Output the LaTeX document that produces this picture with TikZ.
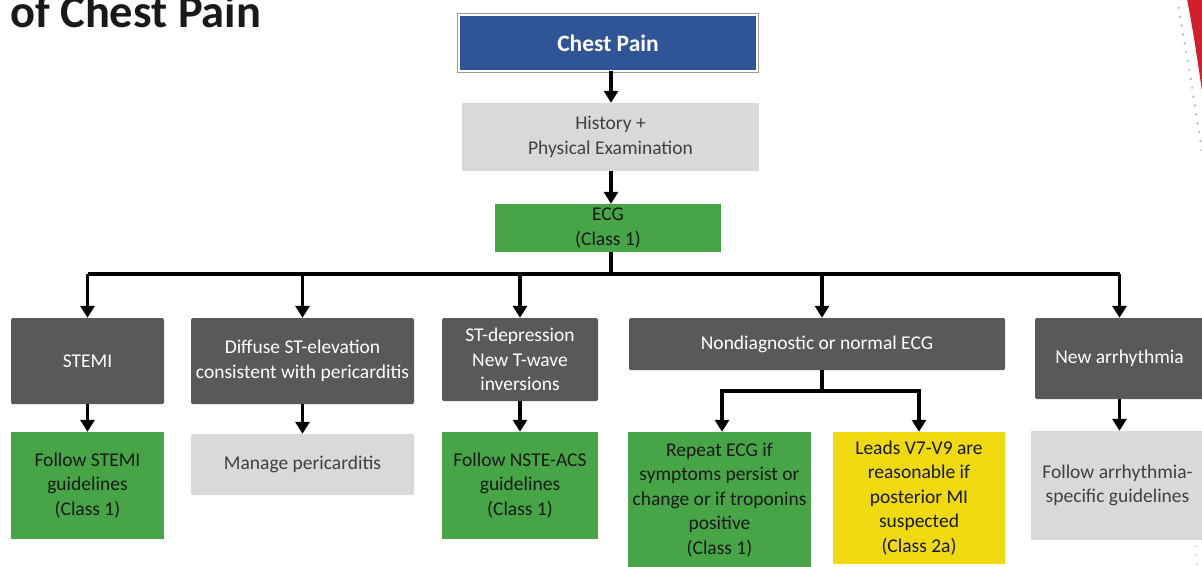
\documentclass[tikz,border=0pt]{standalone}
\usepackage{fontspec}
\setmainfont{Carlito}
\usetikzlibrary{arrows.meta,calc}

\definecolor{hdrblue}{HTML}{2F5597}
\definecolor{darkbox}{HTML}{595959}
\definecolor{lightbox}{HTML}{D9D9D9}
\definecolor{greenbox}{HTML}{47A547}
\definecolor{yellowbox}{HTML}{EFD910}
\definecolor{accentred}{HTML}{D0202E}

\tikzset{
  box/.style={inner sep=2pt, align=center, font=\fontsize{19.5}{24.5}\selectfont, rounded corners=1.5pt},
  darkstep/.style={box, fill=darkbox, text=white},
  lightstep/.style={box, fill=lightbox, text=black!75},
  greenstep/.style={box, fill=greenbox, text=black!90, rounded corners=0pt},
  yellowstep/.style={box, fill=yellowbox, text=black!90, rounded corners=0pt},
  flow/.style={line width=3.2pt, -{Triangle[width=14pt,length=12pt]}},
  flowline/.style={line width=3.2pt}
}

\begin{document}
\begin{tikzpicture}[x=1pt,y=-1pt]
\useasboundingbox (0,0) rectangle (1202,566);

% page title (runs off the top edge)
\node[anchor=base west, inner sep=0pt, font=\fontsize{46.5}{50}\bfseries\selectfont, text=black!90] (title) at (10,27) {of Chest Pain};

% accent shapes on the right edge
\fill[accentred] (1187,-1) .. controls (1194,35) and (1199,70) .. (1204,105) -- (1204,-1) -- cycle;
\draw[gray!55, line width=2.6pt, line cap=round, dash pattern=on 0pt off 9pt] (1177,-1) .. controls (1186,50) and (1196,110) .. (1204,165);
\draw[gray!30, line width=2.2pt, line cap=round, dash pattern=on 0pt off 9pt] (1196,546) -- (1197,566);

% top of the chart
\node[box, fill=hdrblue, text=white, draw=white, line width=1.5pt, rounded corners=0pt,
      minimum width=297pt, minimum height=55pt, font=\fontsize{23.5}{26}\bfseries\selectfont] (chest) at (608,43) {Chest Pain};
\draw[gray!80, line width=1pt] ($(chest.north west)+(-1,-1)$) rectangle ($(chest.south east)+(1,1)$);

\node[lightstep, rounded corners=0pt, minimum width=297pt, minimum height=68pt] (history) at (610.5,137) {History +\\Physical Examination};
\node[greenstep, minimum width=226pt, minimum height=48pt] (ecg) at (608,228) {ECG\\(Class 1)};

% first branch level
\node[darkstep, minimum width=153pt, minimum height=86pt] (stemi) at (87.5,361) {STEMI};
\node[darkstep, minimum width=223pt, minimum height=86pt] (diffuse) at (302.5,361) {Diffuse ST-elevation\\consistent with pericarditis};
\node[darkstep, minimum width=156pt, minimum height=83pt] (stdep) at (520,359.5) {ST-depression\\New T-wave\\inversions};
\node[darkstep, minimum width=376pt, minimum height=52pt] (nondiag) at (817,344) {Nondiagnostic or normal ECG};
\node[darkstep, minimum width=169pt, minimum height=81pt] (newarr) at (1119.5,358.5) {New arrhythmia};

% second branch level
\node[greenstep, minimum width=153pt, minimum height=107pt] (fstemi) at (87.5,485.5) {Follow STEMI\\guidelines\\(Class 1)};
\node[lightstep, minimum width=223pt, minimum height=61pt] (manage) at (302.5,464.5) {Manage pericarditis};
\node[greenstep, minimum width=156pt, minimum height=107pt] (fnste) at (520,485.5) {Follow NSTE-ACS\\guidelines\\(Class 1)};
\node[greenstep, minimum width=183pt, minimum height=136pt] (repeat) at (719.5,500) {Repeat ECG if\\symptoms persist or\\change or if troponins\\positive\\(Class 1)};
\node[yellowstep, minimum width=172pt, minimum height=132pt] (leads) at (919,498) {Leads V7-V9 are\\reasonable if\\posterior MI\\suspected\\(Class 2a)};
\node[lightstep, rounded corners=0pt, minimum width=173pt, minimum height=109pt] (farr) at (1117.5,485.5) {Follow arrhythmia-\\specific guidelines};

% connectors
\coordinate (bus) at (611,274);
\coordinate (split) at (822,391);
\draw[flow] ([xshift=3pt]chest.south) -- ([xshift=3pt]chest.south |- history.north);
\draw[flow] ([xshift=0.5pt]history.south) -- ([xshift=0.5pt]history.south |- ecg.north);
\draw[flowline] ([xshift=3pt]ecg.south) -- (bus);
\draw[flowline] (bus -| stemi.north) -- (bus -| newarr.north);
\draw[flow] (bus -| stemi.north) -- (stemi.north);
\draw[flow] (bus -| diffuse.north) -- (diffuse.north);
\draw[flow] (bus -| stdep.north) -- (stdep.north);
\draw[flow] (bus -| split) -- (split |- nondiag.north);
\draw[flow] (bus -| newarr.north) -- (newarr.north);

\draw[flow] (stemi.south) -- (fstemi.north);
\draw[flow] (diffuse.south) -- (manage.north);
\draw[flow] (stdep.south) -- (fnste.north);
\draw[flow] (newarr.south) -- (newarr.south |- farr.north);

\draw[flowline] (split |- nondiag.south) -- (split);
\draw[flow] (split) -| ([xshift=2.5pt]repeat.north);
\draw[flow] (split) -| (leads.north);
\end{tikzpicture}
\end{document}
